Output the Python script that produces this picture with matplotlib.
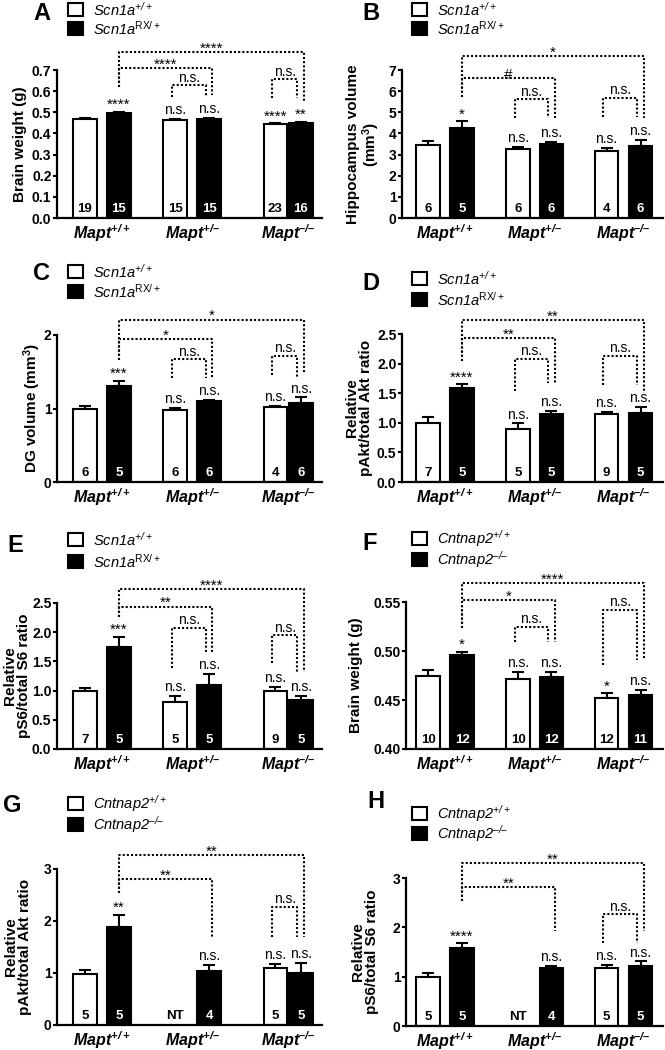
import matplotlib
matplotlib.use("Agg")
import matplotlib.pyplot as plt
import numpy as np
from matplotlib.patches import Rectangle
from matplotlib.ticker import FormatStrFormatter

plt.rcParams["font.family"] = ["Liberation Sans", "DejaVu Sans"]
plt.rcParams["mathtext.default"] = "regular"
plt.rcParams["mathtext.fontset"] = "custom"
plt.rcParams["mathtext.rm"] = "Liberation Sans"

W, H = 665, 1050
NaN = np.nan

# ---- data (bar order: WT, mutant for Mapt+/+, Mapt+/-, Mapt-/-) ----
GROUPS = ["Mapt$^{+/+}$", "Mapt$^{+/\u2013}$", "Mapt$^{\u2013/\u2013}$"]
SCN_LEG = ["Scn1a$^{+/+}$", "Scn1a$^{\\mathrm{RX/+}}$"]
CNT_LEG = ["Cntnap2$^{+/+}$", "Cntnap2$^{\u2013/\u2013}$"]

A_MEAN = [0.468, 0.498, 0.465, 0.470, 0.443, 0.449]
A_ERR = [0.005, 0.005, 0.005, 0.005, 0.004, 0.005]
A_N = ["19", "15", "15", "15", "23", "16"]
A_SIG = ["", "****", "n.s.", "n.s.", "****", "**"]
# (bar i, bar j, bracket level, left leg end, right leg end, label)
A_BRK = [(1, 5, 0.786, 0.618, 0.555, "****"), (1, 3, 0.708, 0.618, 0.582, "****"),
         (2, 3, 0.629, 0.574, 0.574, "n.s."), (4, 5, 0.656, 0.566, 0.566, "n.s.")]

B_MEAN = [3.43, 4.28, 3.27, 3.49, 3.19, 3.41]
B_ERR = [0.22, 0.30, 0.10, 0.12, 0.11, 0.27]
B_N = ["6", "5", "6", "6", "4", "6"]
B_SIG = ["", "*", "n.s.", "n.s.", "n.s.", "n.s."]
B_BRK = [(1, 5, 7.66, 5.74, 4.72, "*"), (1, 3, 6.60, 5.74, 4.72, "#"),
         (2, 3, 5.61, 4.72, 4.72, "n.s."), (4, 5, 5.69, 4.80, 4.80, "n.s.")]

C_MEAN = [0.99, 1.30, 0.98, 1.10, 1.02, 1.08]
C_ERR = [0.05, 0.08, 0.03, 0.02, 0.02, 0.07]
C_N = ["6", "5", "6", "6", "4", "6"]
C_SIG = ["", "***", "n.s.", "n.s.", "n.s.", "n.s."]
C_BRK = [(1, 5, 2.21, 1.66, 1.48, "*"), (1, 3, 1.95, 1.66, 1.41, "*"),
         (2, 3, 1.67, 1.42, 1.42, "n.s."), (4, 5, 1.72, 1.45, 1.43, "n.s.")]

D_MEAN = [0.99, 1.59, 0.90, 1.15, 1.15, 1.16]
D_ERR = [0.11, 0.06, 0.09, 0.05, 0.04, 0.11]
D_N = ["7", "5", "5", "5", "9", "5"]
D_SIG = ["", "****", "n.s.", "n.s.", "n.s.", "n.s."]
D_BRK = [(1, 5, 2.74, 2.05, 1.50, "**"), (1, 3, 2.43, 2.05, 1.67, "**"),
         (2, 3, 2.08, 1.53, 1.67, "n.s."), (4, 5, 2.13, 1.64, 1.64, "n.s.")]

E_MEAN = [0.99, 1.75, 0.81, 1.09, 1.00, 0.84]
E_ERR = [0.05, 0.17, 0.10, 0.20, 0.06, 0.07]
E_N = ["7", "5", "5", "5", "9", "5"]
E_SIG = ["", "***", "n.s.", "n.s.", "n.s.", "n.s."]
E_BRK = [(1, 5, 2.74, 2.26, 1.32, "****"), (1, 3, 2.44, 2.26, 1.66, "**"),
         (2, 3, 2.08, 1.38, 1.66, "n.s."), (4, 5, 1.95, 1.47, 1.32, "n.s.")]

F_MEAN = [0.474, 0.496, 0.471, 0.473, 0.452, 0.455]
F_ERR = [0.007, 0.003, 0.008, 0.006, 0.005, 0.005]
F_N = ["10", "12", "10", "12", "12", "11"]
F_SIG = ["", "*", "n.s.", "n.s.", "*", "n.s."]
F_BRK = [(1, 5, 0.569, 0.523, 0.491, "****"), (1, 3, 0.552, 0.523, 0.509, "*"),
         (2, 3, 0.525, 0.509, 0.509, "n.s."), (4, 5, 0.542, 0.486, 0.491, "n.s.")]

G_MEAN = [0.99, 1.88, NaN, 1.03, 1.09, 1.00]
G_ERR = [0.07, 0.24, NaN, 0.12, 0.08, 0.19]
G_N = ["5", "5", "NT", "4", "5", "5"]
G_SIG = ["", "**", "", "n.s.", "n.s.", "n.s."]
G_BRK = [(1, 5, 3.26, 2.54, 1.70, "**"), (1, 3, 2.81, 2.54, 1.70, "**"),
         (4, 5, 2.27, 1.70, 1.70, "n.s.")]

H_MEAN = [0.99, 1.59, NaN, 1.17, 1.17, 1.22]
H_ERR = [0.09, 0.09, NaN, 0.05, 0.06, 0.09]
H_N = ["5", "5", "NT", "4", "5", "5"]
H_SIG = ["", "****", "", "n.s.", "n.s.", "n.s."]
H_BRK = [(1, 5, 3.30, 2.53, 1.92, "**"), (1, 3, 2.82, 2.53, 1.92, "**"),
         (4, 5, 2.27, 1.69, 1.69, "n.s.")]

# ---- layout ----
XS_L = [0, 1, 2.65, 3.65, 5.6, 6.35]
XS_R = [0, 1, 2.65, 3.63, 5.25, 6.25]
FILL = ["white", "black"] * 3

fig = plt.figure(figsize=(W / 100, H / 100), dpi=100)


def fx(x):
    return x / W


def fy(y):
    return 1 - y / H


def sig_size(s):
    return 10 if s == "n.s." else 11


def panel(box, xs, c0, mean, err, n, sig, brk, ylim, yticks, fmt, ylabel, ylab_x,
          letter, letter_xy, leg, leg_x, leg_tops):
    left, right, top, bottom = box
    ax = fig.add_axes([fx(left), fy(bottom), (right - left) / W, (bottom - top) / H])
    ax.set_xlim((left - c0) / 34, (right - c0) / 34)
    ax.set_ylim(*ylim)
    for x, m, e, c, nn, s in zip(xs, mean, err, FILL, n, sig):
        if not np.isnan(m):
            ax.bar(x, m - ylim[0], bottom=ylim[0], width=0.7, color=c,
                   edgecolor="black", lw=1.5, zorder=2)
            ax.errorbar(x, m, yerr=[[0], [e]], color="black", capsize=4,
                        elinewidth=1.5, capthick=1.5, zorder=1)
        ax.annotate(nn, xy=(x, 0), xycoords=ax.get_xaxis_transform(),
                    xytext=(0, 4.5), textcoords="offset points", ha="center",
                    va="baseline", fontsize=9.5, fontweight="bold", zorder=3,
                    color="white" if (c == "black" and not np.isnan(m)) else "black")
        if s:
            ax.annotate(s, xy=(x, m + e), xytext=(0, 3.5 if s == "n.s." else 2),
                        textcoords="offset points", ha="center", va="baseline",
                        fontsize=sig_size(s), annotation_clip=False)
    for i, j, y, lb, rb, lab in brk:
        off = 0.1 if lab != "n.s." else -0.1
        xl = xs[i] + (off if lab == "n.s." else 0)
        xr = xs[j] + off
        ax.plot([xl, xl, xr, xr], [lb, y, y, rb], ls=(0, (1, 1)), color="black",
                lw=1.5, clip_on=False, zorder=4)
        ax.annotate(lab, xy=((xl + xr) / 2, y), xytext=(0, 2.5 if lab == "n.s." else -0.5),
                    textcoords="offset points", ha="center", va="baseline",
                    fontsize=sig_size(lab), annotation_clip=False)

    ax.set_yticks(yticks)
    ax.yaxis.set_major_formatter(FormatStrFormatter(fmt))
    ax.set_xticks([(xs[0] + xs[1]) / 2, (xs[2] + xs[3]) / 2, (xs[4] + xs[5]) / 2])
    ax.set_xticklabels(GROUPS, fontsize=11.5, fontweight="bold", fontstyle="italic")
    ax.tick_params(axis="x", length=0, pad=3)
    ax.tick_params(axis="y", length=3, width=1.5, pad=1, labelsize=10)
    for t in ax.get_yticklabels():
        t.set_fontweight("bold")
    for side in ("top", "right"):
        ax.spines[side].set_visible(False)
    for side in ("left", "bottom"):
        ax.spines[side].set_linewidth(1.6)

    fig.text(fx(ylab_x), fy((top + bottom) / 2), ylabel, rotation=90, ha="center",
             va="center", fontsize=11, fontweight="bold", multialignment="center",
             linespacing=1.0)
    fig.text(fx(letter_xy[0]), fy(letter_xy[1]), letter, ha="left", va="center",
             fontsize=17, fontweight="bold")
    for yy, fc, lab in zip(leg_tops, ("white", "black"), leg):
        fig.add_artist(Rectangle((fx(leg_x), fy(yy + 13)), 15 / W, 13 / H, fc=fc,
                                 ec="black", lw=1.5, transform=fig.transFigure))
        fig.text(fx(leg_x + 25), fy(yy + 6.5), lab, style="italic", fontsize=10.5,
                 va="center", ha="left")
    return ax


panel((57, 322, 70, 218), XS_L, 85, A_MEAN, A_ERR, A_N, A_SIG, A_BRK, (0, 0.7),
      np.arange(0, 0.71, 0.1), "%.1f", "Brain weight (g)", 20, "A", (33, 13),
      SCN_LEG, 68, (3, 22))
panel((402, 663, 70, 218), XS_R, 428, B_MEAN, B_ERR, B_N, B_SIG, B_BRK, (0, 7),
      range(0, 8), "%d", "Hippocampus volume\n(mm$^3$)", 364, "B", (362, 13),
      SCN_LEG, 412, (3, 22))
panel((57, 322, 335, 482), XS_L, 85, C_MEAN, C_ERR, C_N, C_SIG, C_BRK, (0, 2),
      [0, 1, 2], "%d", "DG volume (mm$^3$)", 32, "C", (33, 274),
      SCN_LEG, 68, (265, 285))
panel((402, 663, 334, 482), XS_R, 428, D_MEAN, D_ERR, D_N, D_SIG, D_BRK, (0, 2.5),
      np.arange(0, 2.51, 0.5), "%.1f", "Relative\npAkt/total Akt ratio", 359, "D",
      (362, 283), SCN_LEG, 412, (272, 293))
panel((57, 322, 603, 749), XS_L, 85, E_MEAN, E_ERR, E_N, E_SIG, E_BRK, (0, 2.5),
      np.arange(0, 2.51, 0.5), "%.1f", "Relative\npS6/total S6 ratio", 17, "E",
      (7, 545), SCN_LEG, 68, (533, 555))
panel((406, 663, 602, 749), XS_R, 428, F_MEAN, F_ERR, F_N, F_SIG, F_BRK, (0.40, 0.55),
      [0.40, 0.45, 0.50, 0.55], "%.2f", "Brain weight (g)", 356, "F", (362, 543),
      CNT_LEG, 412, (532, 553))
panel((57, 322, 869, 1025), XS_L, 85, G_MEAN, G_ERR, G_N, G_SIG, G_BRK, (0, 3),
      [0, 1, 2, 3], "%d", "Relative\npAkt/total Akt ratio", 18, "G", (3, 805),
      CNT_LEG, 68, (797, 818))
panel((406, 663, 878, 1026), XS_R, 428, H_MEAN, H_ERR, H_N, H_SIG, H_BRK, (0, 3),
      [0, 1, 2, 3], "%d", "Relative\npS6/total S6 ratio", 365, "H", (367, 802),
      CNT_LEG, 412, (807, 827))

fig.savefig("out.png", dpi=100, facecolor="white")
